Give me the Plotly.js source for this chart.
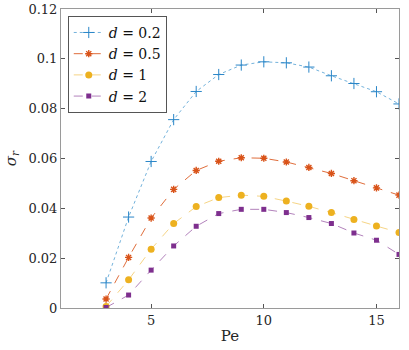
<!DOCTYPE html>
<html>
<head>
<meta charset="utf-8">
<script src="https://cdn.plot.ly/plotly-3.0.1.min.js"></script>
<style>
  html, body { margin: 0; padding: 0; background: #fff; }
  #plot { width: 409px; height: 350px; }
</style>
</head>
<body>
<div id="plot"></div>
<script>
const pe = [3, 4, 5, 6, 7, 8, 9, 10, 11, 12, 13, 14, 15, 16];

const sigmaD02 = [0.0101, 0.0365, 0.0588, 0.0756, 0.0869, 0.0937, 0.0975, 0.0988, 0.0984, 0.0967, 0.0932, 0.0901, 0.0868, 0.0819];
const sigmaD05 = [0.0036, 0.0203, 0.0361, 0.0476, 0.0552, 0.0589, 0.0603, 0.0601, 0.0586, 0.0564, 0.0540, 0.0511, 0.0482, 0.0453];
const sigmaD1  = [0.0006, 0.0113, 0.0236, 0.0339, 0.0407, 0.0443, 0.0453, 0.0448, 0.0429, 0.0408, 0.0383, 0.0355, 0.0329, 0.0303];
const sigmaD2  = [0.0002, 0.0052, 0.0152, 0.0249, 0.0328, 0.0379, 0.0396, 0.0396, 0.0383, 0.0363, 0.0339, 0.0301, 0.0272, 0.0215];

const seriesNames = ['<i>d</i> = 0.2', '<i>d</i> = 0.5', '<i>d</i> = 1', '<i>d</i> = 2'];

const serif = 'DejaVu Serif';

function makeTrace(y, name, lineColor, markerColor, dash, symbol, size, lineW) {
  return {
    x: pe,
    y: y,
    name: name,
    type: 'scatter',
    mode: 'lines+markers',
    line: { color: lineColor, dash: dash, width: 1 },
    marker: { symbol: symbol, size: size, color: markerColor, line: { color: markerColor, width: lineW } }
  };
}

const traces = [
  makeTrace(sigmaD02, seriesNames[0], 'rgba(0,114,189,0.55)', '#2a86c8', 'dot', 'cross-thin-open', 8, 1),
  makeTrace(sigmaD05, seriesNames[1], 'rgba(217,83,25,0.85)', '#D95319', 'dash', 'asterisk-open', 6, 1.4),
  makeTrace(sigmaD1, seriesNames[2], 'rgba(237,177,32,0.55)', '#EDB120', 'dash', 'circle', 7, 0),
  makeTrace(sigmaD2, seriesNames[3], 'rgba(126,47,142,0.6)', '#7E2F8E', 'dash', 'square', 5, 0)
];

const axisCommon = {
  showgrid: false,
  zeroline: false,
  showline: true,
  mirror: 'ticks',
  linecolor: '#9a9a9a',
  linewidth: 1,
  ticks: 'inside',
  ticklen: 4,
  tickcolor: '#555',
  tickfont: { family: serif, size: 13, color: '#262626' }
};

const layout = {
  width: 409,
  height: 350,
  margin: { l: 61, r: 10, t: 9, b: 42 },
  paper_bgcolor: '#fff',
  plot_bgcolor: '#fff',
  font: { family: serif, color: '#262626' },
  showlegend: true,
  legend: {
    x: 0.02, y: 0.977, xanchor: 'left', yanchor: 'top',
    bgcolor: '#fff',
    bordercolor: '#555',
    borderwidth: 1,
    font: { family: serif, size: 14, color: '#111' },
    tracegroupgap: 0,
    itemwidth: 30
  },
  xaxis: Object.assign({}, axisCommon, {
    range: [1, 16],
    tickvals: [5, 10, 15],
    title: { text: 'Pe', font: { family: serif, size: 15, color: '#262626' }, standoff: 3 }
  }),
  yaxis: Object.assign({}, axisCommon, {
    range: [0, 0.12],
    tickvals: [0, 0.02, 0.04, 0.06, 0.08, 0.1, 0.12],
    ticktext: ['0', '0.02', '0.04', '0.06', '0.08', '0.1', '0.12'],
    title: { text: '<i>σ<sub>r</sub></i>', font: { family: serif, size: 15, color: '#262626' }, standoff: 8 }
  })
};

Plotly.newPlot('plot', traces, layout, { displayModeBar: false, staticPlot: true });
</script>
</body>
</html>
